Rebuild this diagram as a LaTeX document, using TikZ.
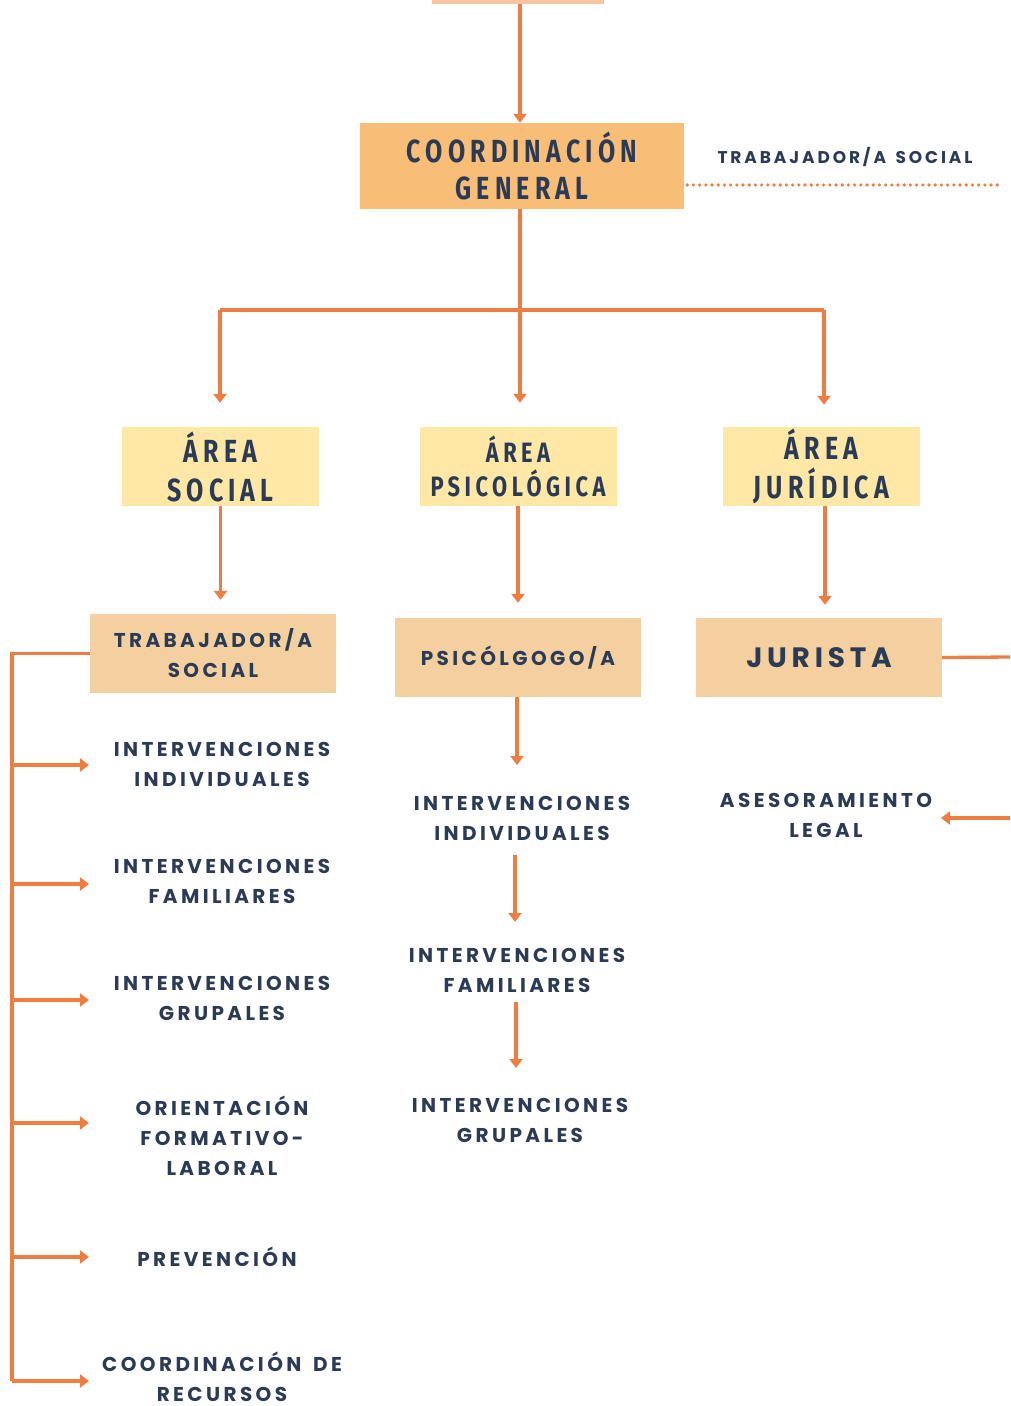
\documentclass[tikz,border=0pt]{standalone}
\usepackage{fontspec}
\usetikzlibrary{arrows.meta}
\newfontfamily\hfont{Fira Sans}[FakeStretch=0.78,LetterSpace=16]
\newfontfamily\bfont{Poppins}[LetterSpace=17]
\definecolor{navy}{HTML}{2B3B55}
\definecolor{org}{HTML}{EF7D42}
\definecolor{peach}{HTML}{F8BE77}
\definecolor{yel}{HTML}{FFE7A6}
\definecolor{tanb}{HTML}{F4CFA0}
\definecolor{stubc}{HTML}{F9C4A2}
\tikzset{
  conn/.style={draw=org, line width=3.3pt},
  arr/.style={conn, -{Triangle[width=13pt,length=9pt]}},
  boxbase/.style={draw=none, text=navy, align=center, inner sep=0pt},
  cgbox/.style={boxbase, fill=peach, minimum width=324pt, minimum height=86pt, font=\hfont\bfseries\fontsize{32}{37}\selectfont},
  areabox/.style={boxbase, fill=yel, minimum width=197pt, minimum height=79pt},
  rolebox/.style={boxbase, fill=tanb, minimum width=246pt, minimum height=79pt},
  item/.style={text=navy, align=center, inner sep=0pt, font=\bfont\bfseries\fontsize{20}{30}\selectfont},
}
\begin{document}
\begin{tikzpicture}[x=1pt,y=-1pt]
\useasboundingbox (0,0) rectangle (1010,1406);
\clip (0,0) rectangle (1010,1406);
% top
\node[boxbase, fill=stubc, minimum width=172pt, minimum height=14pt] (stub) at (518,-3) {};
\node[cgbox] (cg) at (522,166) {COORDINACIÓN\\GENERAL};
\node[item, font=\bfont\bfseries\fontsize{17}{20}\selectfont] (tsr) at (845,157) {TRABAJADOR/A\hspace{3pt} SOCIAL};
\coordinate (dotend) at (1000,185);
\draw[arr] (stub.south -| 520,0) -- (cg.north -| 520,0);
\draw[org, line width=3.6pt, line cap=round, dash pattern=on 0pt off 6.2pt] (cg.east |- dotend) ++(3,0) -- (dotend);
% areas
\node[areabox, font=\hfont\bfseries\fontsize{32}{39}\selectfont] (as) at (220.5,466.5) {ÁREA\\SOCIAL};
\node[areabox, font=\hfont\bfseries\fontsize{28}{34}\selectfont] (ap) at (518,466.5) {ÁREA\\PSICOLÓGICA};
\node[areabox, font=\hfont\bfseries\fontsize{32}{39}\selectfont] (aj) at (821.5,466.5) {ÁREA\\JURÍDICA};
\coordinate (hL) at (220,310);
\coordinate (hM) at (520,310);
\coordinate (hR) at (824,310);
\draw[conn] (cg.south -| hM) -- (hM);
\draw[conn] (hL) -- (hR);
\draw[arr, shorten >=24pt] (hL) -- (hL |- as.north);
\draw[arr, shorten >=24pt] (hM) -- (hM |- ap.north);
\draw[arr, shorten >=22pt] (hR) -- (hR |- aj.north);
% roles
\node[rolebox, font=\bfont\bfseries\fontsize{20}{30}\selectfont] (ts) at (213,653.5) {TRABAJADOR/A\\SOCIAL};
\node[rolebox, font=\bfont\bfseries\fontsize{20}{30}\selectfont] (ps) at (518,657.5) {PSICÓLGOGO/A};
\node[rolebox, font=\bfont\bfseries\fontsize{28}{30}\selectfont] (ju) at (819,657.5) {JURISTA};
\draw[arr, shorten >=14pt] (as.south) -- (as.south |- ts.north);
\draw[arr, shorten >=15pt] (ap.south) -- (ap.south |- ps.north);
\draw[arr, shorten >=13pt] (aj.south -| 825,0) -- (ju.north -| 825,0);
% left column
\node[item] (l1) at (222,764) {INTERVENCIONES\\INDIVIDUALES};
\node[item] (l2) at (222,881) {INTERVENCIONES\\FAMILIARES};
\node[item] (l3) at (222,998) {INTERVENCIONES\\GRUPALES};
\node[item] (l4) at (222,1136) {ORIENTACIÓN\\FORMATIVO-\\LABORAL};
\node[item] (l5) at (217,1257) {PREVENCIÓN};
\node[item] (l6) at (222,1377) {COORDINACIÓN\hspace{4pt} DE\\RECURSOS};
\coordinate (tipx) at (89,0);
\coordinate (b1) at (12,765);
\coordinate (b2) at (12,884);
\coordinate (b3) at (12,1000);
\coordinate (b4) at (12,1123);
\coordinate (b5) at (12,1257);
\coordinate (b6) at (12,1381);
\draw[conn] (ts.west) -- (ts.west -| b6) -- (b6);
\draw[arr] (b1) -- (b1 -| tipx);
\draw[arr] (b2) -- (b2 -| tipx);
\draw[arr] (b3) -- (b3 -| tipx);
\draw[arr] (b4) -- (b4 -| tipx);
\draw[arr] (b5) -- (b5 -| tipx);
\draw[arr] (b6) -- (b6 -| tipx);
% middle column
\node[item] (m1) at (522,818) {INTERVENCIONES\\INDIVIDUALES};
\node[item] (m2) at (517,970) {INTERVENCIONES\\FAMILIARES};
\node[item] (m3) at (520,1120) {INTERVENCIONES\\GRUPALES};
\draw[arr] (ps.south -| 517,0) -- (517,765);
\draw[arr] (515,855) -- (515,922);
\draw[arr] (516,1002) -- (516,1068);
% right column
\node[item] (r1) at (826,815) {ASESORAMIENTO\\LEGAL};
\coordinate (jr) at (1010,657);
\coordinate (ar) at (1010,818);
\draw[conn] (ju.east) -- (jr);
\draw[arr] (ar) -- (ar -| 941,0);
\end{tikzpicture}
\end{document}
